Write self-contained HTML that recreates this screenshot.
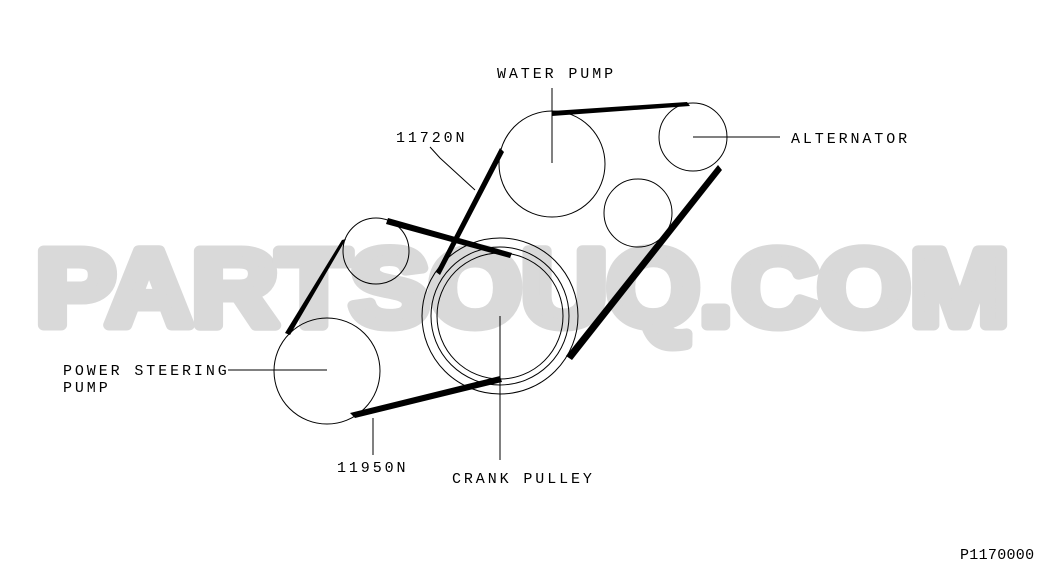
<!DOCTYPE html>
<html><head><style>
html,body{margin:0;padding:0;background:#fff;}
svg{display:block;}
.l{font-family:"Liberation Mono",monospace;font-size:15px;letter-spacing:2.9px;fill:#000;}
</style></head><body>
<svg width="1045" height="572" viewBox="0 0 1045 572">
<text x="36" y="325" textLength="973" lengthAdjust="spacingAndGlyphs" font-family="Liberation Sans, sans-serif" font-weight="bold" font-size="108" fill="#d9d9d9" stroke="#d9d9d9" stroke-width="11" stroke-linejoin="round">PARTSOUQ.COM</text>
<g fill="none" stroke="#000" stroke-width="1">
<circle cx="552" cy="164" r="53"/>
<circle cx="693" cy="137" r="34"/>
<circle cx="638" cy="213" r="34"/>
<circle cx="376" cy="251" r="33"/>
<circle cx="327" cy="371" r="53"/>
<circle cx="500" cy="316" r="78"/>
<circle cx="500" cy="316" r="69"/>
<circle cx="500" cy="316" r="63"/>
<line x1="552" y1="88" x2="552" y2="163"/>
<line x1="693" y1="137" x2="780" y2="137"/>
<line x1="228" y1="370" x2="327" y2="370"/>
<line x1="500" y1="316" x2="500" y2="460"/>
<line x1="373" y1="418" x2="373" y2="455"/>
<polyline points="430,147 440,158 475,190"/>
</g>
<g fill="#000">
<polygon points="500,148 504,152 440,275 436,272"/>
<polygon points="552,111 552,116 690,106 687,102"/>
<polygon points="718,165 722,170 572,360 566,356"/>
<polygon points="500,376 502,382 355,418 350,413"/>
<polygon points="285,333 290,335 346,239 342,240"/>
<polygon points="388,218 386,224 510,258 512,253"/>
</g>
<text class="l" x="497" y="78">WATER PUMP</text>
<text class="l" x="791" y="143">ALTERNATOR</text>
<text class="l" x="396" y="142">11720N</text>
<text class="l" x="63" y="375">POWER STEERING</text>
<text class="l" x="63" y="392">PUMP</text>
<text class="l" x="337" y="472">11950N</text>
<text class="l" x="452" y="483">CRANK PULLEY</text>
<text class="l" x="960" y="559" style="letter-spacing:0.3px">P1170000</text>
</svg>
</body></html>
